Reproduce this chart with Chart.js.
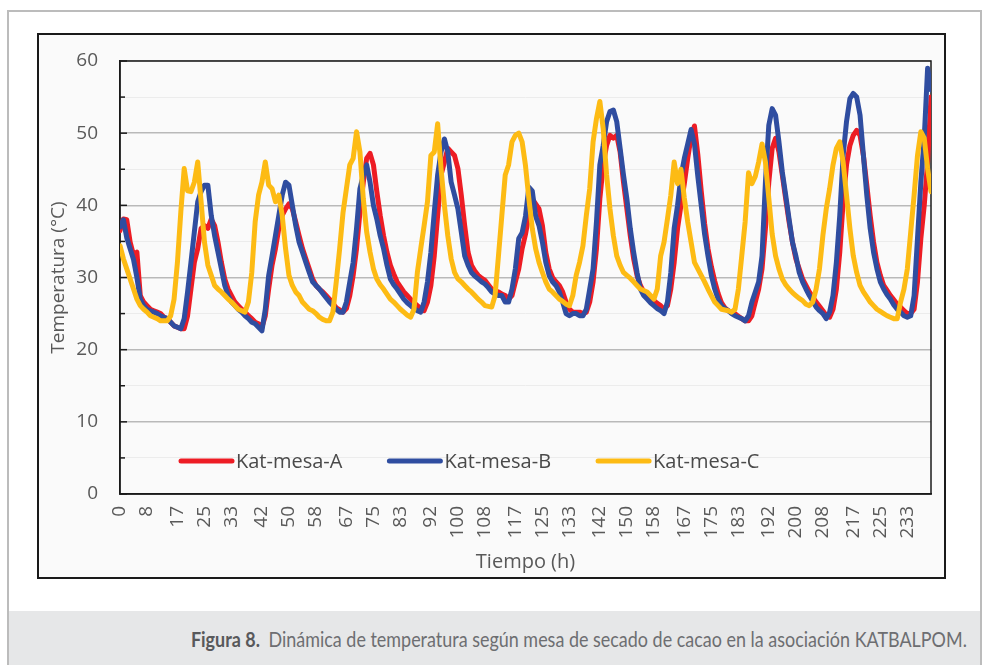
<!DOCTYPE html>
<html>
<head>
<meta charset="utf-8">
<script src="https://cdn.jsdelivr.net/npm/chart.js@4.4.0/dist/chart.umd.min.js"></script>
<style>
html,body{margin:0;padding:0;background:#fff;}
body{width:982px;height:665px;position:relative;overflow:hidden;font-family:'Open Sans',sans-serif;}
#frame{position:absolute;left:7px;top:10px;width:975px;height:660px;border:2px solid #bcbcbc;border-bottom:none;box-sizing:border-box;}
#box{position:absolute;left:37px;top:33px;width:909px;height:546px;border:2px solid #1a1a1a;background:#fafafa;box-sizing:border-box;}
#caption{position:absolute;left:9px;top:611px;width:971px;height:54px;background:#e6e7e8;}
#captext{position:absolute;right:13px;top:16px;white-space:nowrap;font-family:Lato,'Noto Sans',sans-serif;font-size:21px;line-height:24px;color:#6d6e71;transform-origin:right center;}
#captext b{color:#58595b;margin-right:10px;}
</style>
</head>
<body>
<div id="frame"></div>
<div id="box"><canvas id="chart" width="905" height="542"></canvas></div>
<div id="caption"><span id="captext"><b>Figura 8.</b>Dinámica de temperatura según mesa de secado de cacao en la asociación KATBALPOM.</span></div>
<script>
// hourly readings, 0..240 h
const hours = Array.from({length: 241}, (_, i) => i);

const tempA = [
  36.5,38.1,38.0,34.9,33.1,33.5,27.5,26.6,26.1,25.6,
  25.4,25.2,25.0,24.5,24.3,23.8,23.3,23.1,22.9,22.9,
  24.7,28.4,32.1,34.0,36.8,37.2,36.8,38.1,37.2,34.9,
  32.1,29.8,28.4,27.5,26.6,26.1,25.6,25.2,24.7,24.3,
  23.8,23.6,23.1,24.7,28.4,31.7,34.0,36.8,38.6,39.5,
  40.2,39.5,37.7,35.8,34.0,32.6,31.2,29.8,28.9,28.4,
  28.0,27.5,27.0,26.4,25.8,25.5,25.2,25.7,27.5,30.3,
  34.0,39.0,43.2,46.5,47.2,45.6,41.9,38.6,35.8,33.5,
  31.7,30.5,29.4,28.7,28.0,27.5,27.0,26.5,26.1,25.7,
  25.4,26.6,28.9,33.0,38.6,44.2,46.0,47.9,47.4,46.9,
  45.1,41.4,37.2,33.5,31.7,30.9,30.3,29.9,29.6,29.0,
  28.4,28.2,28.0,27.7,27.5,27.0,27.5,29.4,31.2,34.0,
  36.0,38.6,40.9,40.2,39.5,37.2,33.5,31.2,30.0,29.4,
  28.9,28.0,26.6,25.6,25.2,25.2,25.2,25.0,25.2,26.6,
  29.4,34.0,40.9,45.6,48.3,49.7,49.3,49.7,47.4,43.2,
  39.5,35.8,32.6,30.3,28.9,28.0,27.5,27.1,26.8,26.4,
  26.1,25.6,26.1,28.4,32.1,36.8,40.0,43.0,46.5,49.5,
  51.0,47.0,42.0,37.5,34.0,31.5,29.5,27.8,26.5,25.8,
  25.4,25.2,25.0,24.6,24.3,24.0,24.0,24.7,26.6,28.4,
  31.2,36.8,43.2,47.9,49.3,47.4,44.2,40.9,37.7,34.9,
  32.6,31.2,29.8,28.9,28.0,27.3,26.6,26.0,25.4,24.7,
  24.5,25.6,28.4,33.5,40.5,45.6,48.3,49.7,50.4,49.7,
  46.9,42.8,38.6,34.9,32.1,30.3,28.9,28.2,27.5,26.9,
  26.3,25.9,25.4,25.0,25.0,25.6,29.4,35.4,40.0,46.0,
  55.0
];

const tempB = [
  37.0,38.0,35.5,34.0,32.5,30.0,27.0,26.1,25.6,25.4,
  25.2,25.0,24.7,24.5,24.3,23.8,23.3,23.1,22.9,24.3,
  28.0,32.1,36.3,40.5,41.9,42.8,42.8,38.6,35.8,33.5,
  31.2,28.9,27.5,26.6,26.1,25.6,25.2,24.7,24.3,23.8,
  23.6,23.1,22.6,25.6,30.3,33.0,35.8,38.6,41.4,43.2,
  42.8,40.0,37.2,34.9,33.5,32.1,30.7,29.4,28.9,28.4,
  27.8,27.2,26.6,26.1,25.6,25.2,25.2,26.6,29.4,32.1,
  36.8,42.3,44.2,45.6,43.2,40.0,38.1,35.8,34.0,31.7,
  29.8,29.0,28.4,27.7,27.0,26.5,26.1,25.7,25.4,25.2,
  26.6,29.4,33.5,39.0,44.2,47.4,49.2,47.4,43.2,41.4,
  39.5,36.3,33.0,31.7,30.7,30.2,29.8,29.4,29.1,28.6,
  28.0,27.7,27.5,27.5,26.6,26.6,28.4,31.2,35.4,36.2,
  38.5,42.5,42.0,38.5,37.2,34.9,32.1,30.3,29.4,28.9,
  28.0,26.6,25.0,24.7,25.0,25.0,24.7,24.7,25.6,28.4,
  31.2,37.7,45.6,48.3,51.6,53.0,53.2,51.6,47.9,44.2,
  40.9,36.8,33.5,30.7,28.4,27.5,27.0,26.5,26.1,25.7,
  25.4,25.0,26.6,30.7,36.8,40.0,44.0,46.5,48.5,50.5,
  48.5,44.0,40.0,36.0,33.0,30.3,28.4,27.0,26.1,25.7,
  25.4,25.0,24.7,24.5,24.3,24.0,24.7,26.6,28.0,29.4,
  33.0,43.2,51.1,53.4,52.5,48.8,44.6,41.4,38.1,34.9,
  33.0,30.7,29.4,28.4,27.5,26.7,25.9,25.4,25.0,24.3,
  25.2,27.5,32.1,38.6,46.9,51.6,54.8,55.5,55.0,52.5,
  46.9,41.4,36.8,33.5,31.2,29.4,28.4,27.6,27.0,26.2,
  25.6,25.2,24.7,24.5,24.7,27.5,35.4,43.2,49.3,59.0,
  56.0
];

const tempC = [
  34.4,32.6,31.2,29.8,28.4,27.0,26.1,25.6,25.2,24.7,
  24.5,24.3,24.0,24.0,24.0,24.7,27.0,32.1,39.1,45.1,
  42.0,41.9,43.2,46.0,40.5,34.9,31.7,30.3,28.9,28.4,
  28.0,27.5,27.0,26.6,26.1,25.6,25.4,25.2,26.6,30.7,
  37.7,41.4,43.2,46.0,42.8,42.3,40.5,41.4,38.6,34.0,
  30.3,28.9,28.0,27.5,26.6,26.1,25.6,25.4,25.0,24.5,
  24.2,24.0,24.0,25.2,29.4,34.0,39.0,42.3,45.6,46.5,
  50.2,47.4,40.9,36.3,33.5,31.2,29.8,29.0,28.4,27.7,
  27.0,26.6,26.1,25.6,25.2,24.8,24.5,25.6,30.7,34.0,
  37.2,40.5,46.9,47.4,51.3,45.1,40.0,35.8,32.6,30.7,
  29.8,29.4,28.9,28.4,28.0,27.5,27.0,26.6,26.1,26.0,
  25.9,27.5,33.0,38.6,44.2,45.6,48.8,49.7,50.0,48.8,
  45.5,40.9,36.8,34.0,32.1,30.7,29.4,28.4,28.0,27.5,
  27.0,26.7,26.3,26.1,27.5,30.3,32.1,34.4,38.6,42.3,
  48.8,52.0,54.4,50.6,44.2,39.5,35.8,33.0,31.7,30.7,
  30.3,29.9,29.4,28.9,28.4,28.2,28.0,27.5,27.0,28.4,
  33.0,34.9,38.1,41.4,46.0,43.0,45.0,41.0,37.7,34.9,
  32.1,31.2,30.3,29.4,28.4,27.5,26.6,26.1,25.6,25.5,
  25.4,25.2,25.6,28.4,33.0,37.7,44.5,43.0,44.0,46.0,
  48.5,46.0,41.0,36.0,33.0,31.2,29.8,29.0,28.4,27.9,
  27.5,27.1,26.8,26.3,26.1,26.6,28.4,31.2,35.8,39.5,
  42.3,45.6,47.9,48.8,46.0,41.4,36.8,33.0,30.7,28.9,
  28.0,27.3,26.6,26.1,25.6,25.3,25.0,24.7,24.5,24.3,
  24.3,26.6,28.4,31.2,36.3,41.4,46.9,50.2,49.3,45.1,
  41.9
];

const xTicks = [0,8,17,25,33,42,50,58,67,75,83,92,100,108,117,125,133,142,150,158,167,175,183,192,200,208,217,225,233];
const seriesNames = ['Kat-mesa-A','Kat-mesa-B','Kat-mesa-C'];
const seriesColors = ['#ED1C24','#2F4DA0','#FDBB14'];
const seriesData = [tempA, tempB, tempC];

const frame = {
  id: 'frame',
  beforeDatasetsDraw(chart) {
    const {ctx, chartArea: a, scales: {y}} = chart;
    ctx.save();
    ctx.strokeStyle = '#1a1a1a';
    ctx.lineWidth = 1.5;
    ctx.strokeRect(a.left, a.top, a.right - a.left, a.bottom - a.top);
    y.ticks.forEach(t => {
      const py = y.getPixelForValue(t.value);
      const len = t.value % 10 === 0 ? 7 : 5;
      ctx.beginPath();
      ctx.moveTo(a.left, py);
      ctx.lineTo(a.left + len, py);
      ctx.stroke();
    });
    ctx.restore();
  }
};

const legendInside = {
  id: 'legendInside',
  afterDatasetsDraw(chart) {
    const {ctx, chartArea: a} = chart;
    ctx.save();
    ctx.font = '20px "Open Sans"';
    ctx.textBaseline = 'middle';
    let x = a.left + 61;
    const y = a.bottom - 33;
    seriesNames.forEach((name, i) => {
      ctx.strokeStyle = seriesColors[i];
      ctx.lineWidth = 5;
      ctx.lineCap = 'round';
      ctx.beginPath();
      ctx.moveTo(x, y);
      ctx.lineTo(x + 51, y);
      ctx.stroke();
      ctx.fillStyle = '#4a4a4a';
      ctx.fillText(name, x + 55, y + 1);
      x += 55 + ctx.measureText(name).width + 47;
    });
    ctx.restore();
  }
};

function draw() {
  const ctx = document.getElementById('chart');
  new Chart(ctx, {
    type: 'line',
    data: {
      datasets: seriesData.map((vals, i) => ({
        label: seriesNames[i],
        data: vals.map((v, j) => ({x: hours[j], y: v})),
        borderColor: seriesColors[i],
        borderWidth: 5,
        pointRadius: 0,
        tension: 0,
        borderJoinStyle: 'round',
        borderCapStyle: 'round',
        order: 2 - i
      }))
    },
    options: {
      responsive: false,
      animation: false,
      devicePixelRatio: 1,
      layout: { padding: { top: 26, right: 13, left: 0, bottom: 0 } },
      plugins: { legend: { display: false }, tooltip: { enabled: false } },
      scales: {
        x: {
          type: 'linear',
          min: 0,
          max: 240,
          afterBuildTicks: s => { s.ticks = xTicks.map(v => ({value: v})); },
          afterFit: s => { s.height = 83; },
          grid: { display: false, drawTicks: false },
          border: { display: true, color: '#1a1a1a', width: 1.5 },
          ticks: {
            autoSkip: false,
            minRotation: 90,
            maxRotation: 90,
            padding: 12,
            color: '#595959',
            font: { family: 'Open Sans', size: 19 }
          },
          title: {
            display: true,
            text: 'Tiempo (h)',
            color: '#595959',
            font: { family: 'Open Sans', size: 20 },
            padding: { top: 0, bottom: 3 }
          }
        },
        y: {
          min: 0,
          max: 60,
          afterFit: s => { s.width = 81; },
          grid: {
            drawTicks: true,
            tickLength: 19,
            tickColor: 'rgba(0,0,0,0)',
            color: c => c.tick.value % 10 === 0 ? '#b9b9b9' : '#ececec',
            lineWidth: c => c.tick.value % 10 === 0 ? 1.5 : 1
          },
          border: { display: true, color: '#1a1a1a', width: 1.5 },
          ticks: {
            stepSize: 5,
            padding: 3,
            color: '#595959',
            font: { family: 'Open Sans', size: 19 },
            callback: v => v % 10 === 0 ? v : ''
          },
          title: {
            display: true,
            text: 'Temperatura (°C)',
            color: '#595959',
            font: { family: 'Open Sans', size: 19 },
            padding: { top: 8, bottom: 0 }
          }
        }
      }
    },
    plugins: [frame, legendInside]
  });

  const cap = document.getElementById('captext');
  const w = cap.getBoundingClientRect().width;
  cap.style.transform = 'scaleX(' + (776 / w) + ')';
}

if (document.fonts && document.fonts.ready) {
  document.fonts.ready.then(draw);
} else {
  draw();
}
</script>
</body>
</html>
